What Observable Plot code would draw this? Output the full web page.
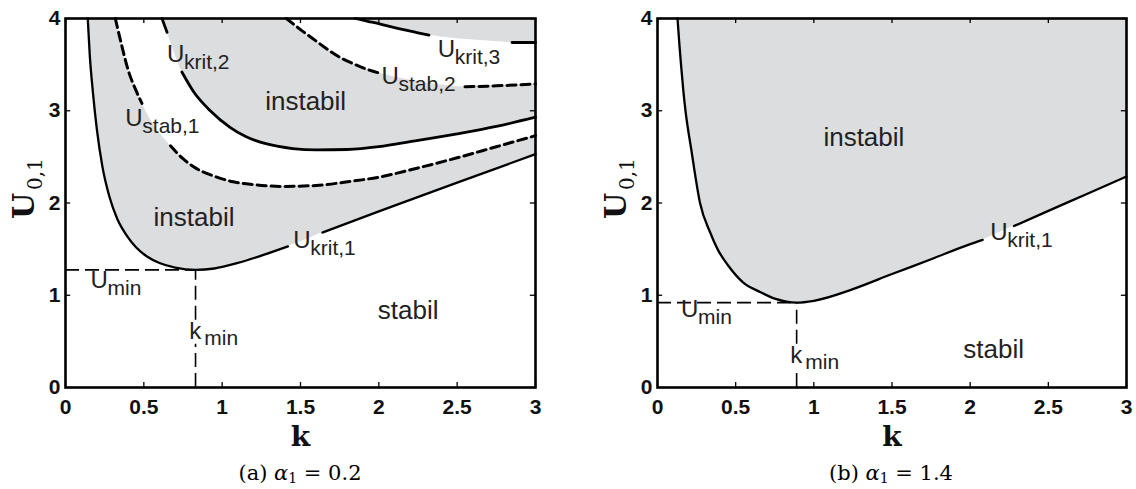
<!DOCTYPE html>
<html><head><meta charset="utf-8">
<script src="https://cdn.jsdelivr.net/npm/d3@7"></script>
<script src="https://cdn.jsdelivr.net/npm/@observablehq/plot@0.6"></script>
<style>
body{margin:0;background:#fff;}
#wrap{position:relative;width:1136px;height:489px;overflow:hidden;background:#fff;}
.panel{position:absolute;top:0;}
.cap{position:absolute;top:461px;width:300px;margin-left:-150px;font-family:"DejaVu Serif",serif;font-size:21px;color:#000;text-align:center;white-space:nowrap;}
.cap sub{font-size:14px;vertical-align:-3px;}
</style></head><body><div id="wrap"></div>
<script>
// ---------- axis ticks ----------
const xTicks = [0, 0.5, 1, 1.5, 2, 2.5, 3];
const yTicks = [0, 1, 2, 3, 4];

// ---------- panel (a): alpha1 = 0.2 ----------
const krit1A_k = [0.142,0.155,0.175,0.2,0.235,0.28,0.33,0.39,0.45,0.52,0.6,0.7,0.83,0.95,1.1,1.25,1.42,1.53,1.64,2.0,2.5,3.0];
const krit1A_u = [4.0,3.6,3.2,2.8,2.4,2.07,1.83,1.65,1.52,1.42,1.35,1.3,1.275,1.29,1.35,1.43,1.53,1.60,1.68,1.91,2.22,2.53];
const stab1A_k = [0.318,0.36,0.40,0.45,0.488,0.55,0.61,0.67,0.75,0.82,0.95,1.07,1.2,1.385,1.6,1.8,2.0,2.25,2.5,2.75,3.0];
const stab1A_u = [4.0,3.7,3.44,3.22,3.08,2.88,2.74,2.62,2.48,2.39,2.29,2.23,2.2,2.18,2.19,2.23,2.28,2.38,2.49,2.61,2.73];
const krit2A_k = [0.616,0.648,0.69,0.743,0.82,0.924,1.05,1.15,1.285,1.45,1.6,1.8,2.0,2.22,2.5,2.75,3.0];
const krit2A_u = [4.0,3.85,3.65,3.42,3.2,3.0,2.82,2.72,2.64,2.59,2.575,2.58,2.61,2.67,2.75,2.83,2.93];
const stab2A_k = [1.41,1.5,1.58,1.66,1.75,1.85,1.94,2.0,2.2,2.4,2.55,2.75,3.0];
const stab2A_u = [4.0,3.88,3.78,3.68,3.58,3.5,3.44,3.41,3.33,3.28,3.26,3.27,3.29];
const krit3A_k = [1.85,1.93,2.01,2.1,2.18,2.25,2.32,2.5,2.7,2.85,3.0];
const krit3A_u = [4.0,3.97,3.94,3.9,3.87,3.845,3.82,3.78,3.755,3.74,3.74];
const gapsKrit1A = [[1.42,1.64]];
const gapsStab1A = [[0.488,0.67]];
const gapsKrit2A = [[0.648,0.743]];
const gapsStab2A = [[2.0,2.55]];
const gapsKrit3A = [[2.32,2.85]];
const kMinA = 0.83, uMinA = 1.275;
const subLabelsA = [
  {k:0.648, u:3.53, main:"U", sub:"krit,2"},
  {k:0.382, u:2.83, main:"U", sub:"stab,1"},
  {k:1.454, u:1.51, main:"U", sub:"krit,1"},
  {k:2.376, u:3.58, main:"U", sub:"krit,3"},
  {k:2.017, u:3.29, main:"U", sub:"stab,2"},
  {k:0.16,  u:1.08, main:"U", sub:"min"}
];
const kLabelA = [{k:0.79, u:0.53, main:"k", sub:"min"}];
const wordLabelsA = [
  {k:1.533, u:3.10, t:"instabil"},
  {k:0.82,  u:1.84, t:"instabil"},
  {k:2.187, u:0.835, t:"stabil"}
];

// ---------- panel (b): alpha1 = 1.4 ----------
const krit1B_k = [0.128,0.14,0.151,0.165,0.179,0.216,0.272,0.337,0.384,0.453,0.547,0.663,0.756,0.89,1.0,1.25,1.5,1.75,2.0,2.08,2.18,2.28,2.5,2.75,3.0];
const krit1B_u = [4.0,3.72,3.49,3.22,3.0,2.58,2.0,1.68,1.5,1.32,1.14,1.03,0.96,0.92,0.94,1.066,1.23,1.39,1.554,1.6,1.675,1.75,1.915,2.1,2.287];
const gapsKrit1B = [[2.08,2.28]];
const kMinB = 0.89, uMinB = 0.92;
const subLabelsB = [
  {k:2.128, u:1.60, main:"U", sub:"krit,1"},
  {k:0.151, u:0.76, main:"U", sub:"min"}
];
const kLabelB = [{k:0.849, u:0.27, main:"k", sub:"min"}];
const wordLabelsB = [
  {k:1.32, u:2.71, t:"instabil"},
  {k:2.15, u:0.415, t:"stabil"}
];

// ---------- helpers ----------
const GRAY = "#dcdddf";
const zip = (ks, us) => ks.map((k, i) => ({k, u: us[i]}));
const inGap = (k, gaps) => gaps.some(([a, b]) => k > a && k < b);
const SANS = "Liberation Sans, Arial, Helvetica, sans-serif";
const SERIF = "DejaVu Serif, serif";

function panel({width, marginLeft, marginRight, fills, curves, kMin, uMin, subLabels, kLabel, words}) {
  const marks = [];
  for (const f of fills) {
    marks.push(Plot.areaY(f.data, {x: "k", y1: "u", y2: 4, fill: f.fill, curve: "monotone-x"}));
  }
  const kl = kLabel[0];
  const dashed = {stroke: "#000", strokeWidth: 1.6, strokeDasharray: "14,6"};
  marks.push(Plot.ruleY([uMin], {x1: 0, x2: kMin, ...dashed}));
  marks.push(Plot.ruleX([kMin], {y1: kl.u + 0.2, y2: uMin, ...dashed}));
  marks.push(Plot.ruleX([kMin], {y1: 0, y2: kl.u - 0.06, ...dashed}));
  for (const c of curves) {
    marks.push(Plot.line(c.data, {
      x: "k", y: d => inGap(d.k, c.gaps) ? NaN : d.u,
      stroke: "#000", strokeWidth: c.width, strokeDasharray: c.dash, curve: "monotone-x"
    }));
  }
  // inward ticks on all four sides
  marks.push(Plot.ruleX(xTicks, {x: d => d, y1: 0, y2: 0.055, stroke: "#000", strokeWidth: 1.3}));
  marks.push(Plot.ruleX(xTicks, {x: d => d, y1: 3.945, y2: 4, stroke: "#000", strokeWidth: 1.3}));
  marks.push(Plot.ruleY(yTicks, {y: d => d, x1: 0, x2: 0.033, stroke: "#000", strokeWidth: 1.3}));
  marks.push(Plot.ruleY(yTicks, {y: d => d, x1: 2.967, x2: 3, stroke: "#000", strokeWidth: 1.3}));
  marks.push(Plot.frame({stroke: "#000", strokeWidth: 2.6}));
  // annotations
  const txt = {fontFamily: SANS, fontWeight: "normal", fill: "#222", textAnchor: "start", lineAnchor: "bottom"};
  marks.push(Plot.text(subLabels, {...txt, x: "k", y: "u", text: "main", fontSize: 24}));
  marks.push(Plot.text(subLabels, {...txt, x: "k", y: "u", text: "sub", fontSize: 21, dx: 17, dy: 7}));
  marks.push(Plot.text(kLabel, {...txt, x: "k", y: "u", text: "main", fontSize: 24}));
  marks.push(Plot.text(kLabel, {...txt, x: "k", y: "u", text: "sub", fontSize: 21, dx: 15, dy: 6}));
  marks.push(Plot.text(words, {fontFamily: SANS, fontWeight: "normal", fill: "#222", x: "k", y: "u", text: "t", fontSize: 26}));
  // axis labels
  marks.push(Plot.text(["k"], {text: d => d, frameAnchor: "bottom", lineAnchor: "bottom", dy: 58, fontFamily: SERIF, fontWeight: "bold", fontSize: 28}));
  marks.push(Plot.text(["U"], {text: d => d, frameAnchor: "left", rotate: -90, textAnchor: "start", lineAnchor: "bottom", dx: -32, dy: 16, fontFamily: SERIF, fontWeight: "bold", fontSize: 30}));
  marks.push(Plot.text(["0,1"], {text: d => d, frameAnchor: "left", rotate: -90, textAnchor: "start", lineAnchor: "bottom", dx: -24, dy: -13, fontFamily: SERIF, fontWeight: "normal", fontSize: 20}));
  return Plot.plot({
    width, height: 450, marginLeft, marginRight, marginTop: 18, marginBottom: 63,
    style: {fontFamily: SANS, fontSize: "21px", fontWeight: "bold", color: "#111", background: "transparent", overflow: "visible"},
    x: {domain: [0, 3], ticks: xTicks, tickSize: 0, tickPadding: 12, tickFormat: d => String(d), label: null},
    y: {domain: [0, 4], ticks: yTicks, tickSize: 0, tickPadding: 5, tickFormat: d => String(d), label: null},
    marks
  });
}

const wrap = document.getElementById("wrap");

const figA = panel({
  width: 568, marginLeft: 65, marginRight: 33,
  fills: [
    {data: zip(krit1A_k, krit1A_u), fill: GRAY},
    {data: zip(stab1A_k, stab1A_u), fill: "#fff"},
    {data: zip(krit2A_k, krit2A_u), fill: GRAY},
    {data: zip(stab2A_k, stab2A_u), fill: "#fff"},
    {data: zip(krit3A_k, krit3A_u), fill: GRAY}
  ],
  curves: [
    {data: zip(krit1A_k, krit1A_u), gaps: gapsKrit1A, width: 2.3},
    {data: zip(stab1A_k, stab1A_u), gaps: gapsStab1A, width: 3, dash: "9,5"},
    {data: zip(krit2A_k, krit2A_u), gaps: gapsKrit2A, width: 2.8},
    {data: zip(stab2A_k, stab2A_u), gaps: gapsStab2A, width: 3, dash: "9,5"},
    {data: zip(krit3A_k, krit3A_u), gaps: gapsKrit3A, width: 2.8}
  ],
  kMin: kMinA, uMin: uMinA, subLabels: subLabelsA, kLabel: kLabelA, words: wordLabelsA
});
figA.classList.add("panel"); figA.style.left = "0px";
wrap.appendChild(figA);

const figB = panel({
  width: 568, marginLeft: 89, marginRight: 10,
  fills: [{data: zip(krit1B_k, krit1B_u), fill: GRAY}],
  curves: [{data: zip(krit1B_k, krit1B_u), gaps: gapsKrit1B, width: 2.3}],
  kMin: kMinB, uMin: uMinB, subLabels: subLabelsB, kLabel: kLabelB, words: wordLabelsB
});
figB.classList.add("panel"); figB.style.left = "568px";
wrap.appendChild(figB);

const capA = document.createElement("div");
capA.className = "cap"; capA.style.left = "300px";
capA.innerHTML = "(a) <i>α</i><sub>1</sub> = 0.2";
wrap.appendChild(capA);
const capB = document.createElement("div");
capB.className = "cap"; capB.style.left = "891px";
capB.innerHTML = "(b) <i>α</i><sub>1</sub> = 1.4";
wrap.appendChild(capB);
</script>
</body></html>
